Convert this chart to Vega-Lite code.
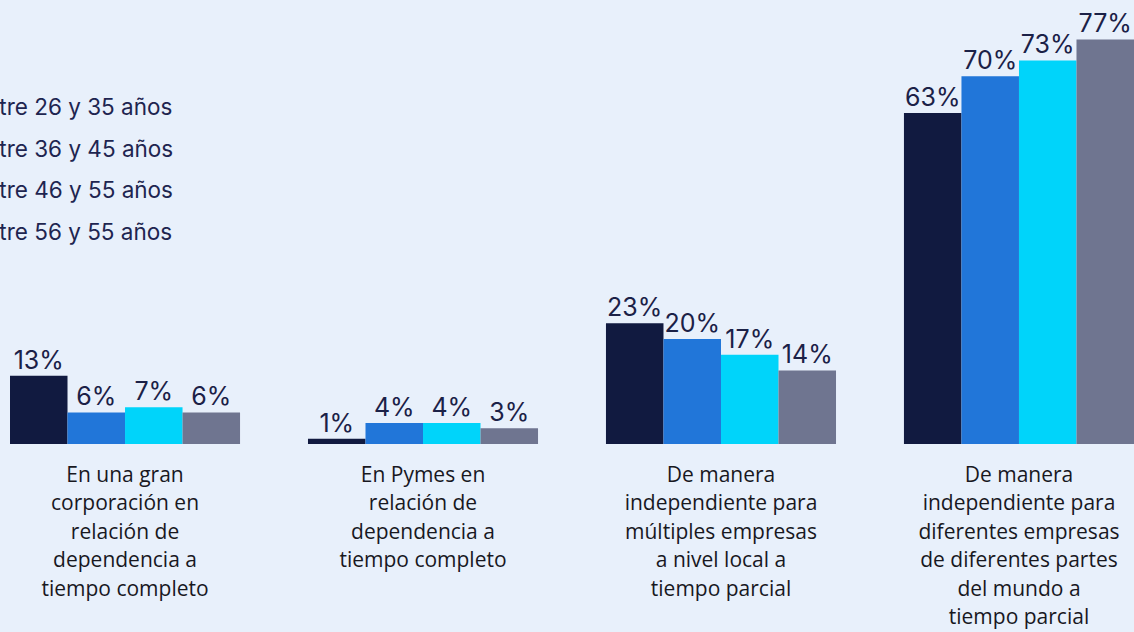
{
  "$schema": "https://vega.github.io/schema/vega-lite/v6.json",
  "width": 1124,
  "height": 444,
  "autosize": {"type": "none"},
  "padding": {"left": 10, "top": 0, "right": 0, "bottom": 188},
  "background": "#e8f0fb",
  "config": {"view": {"stroke": null}},
  "data": {
    "values": [
      {"cat": "En una gran|corporación en|relación de|dependencia a|tiempo completo", "edad": "Entre 26 y 35 años", "valor": 0.13},
      {"cat": "En una gran|corporación en|relación de|dependencia a|tiempo completo", "edad": "Entre 36 y 45 años", "valor": 0.06},
      {"cat": "En una gran|corporación en|relación de|dependencia a|tiempo completo", "edad": "Entre 46 y 55 años", "valor": 0.07},
      {"cat": "En una gran|corporación en|relación de|dependencia a|tiempo completo", "edad": "Entre 56 y 55 años", "valor": 0.06},
      {"cat": "En Pymes en|relación de|dependencia a|tiempo completo", "edad": "Entre 26 y 35 años", "valor": 0.01},
      {"cat": "En Pymes en|relación de|dependencia a|tiempo completo", "edad": "Entre 36 y 45 años", "valor": 0.04},
      {"cat": "En Pymes en|relación de|dependencia a|tiempo completo", "edad": "Entre 46 y 55 años", "valor": 0.04},
      {"cat": "En Pymes en|relación de|dependencia a|tiempo completo", "edad": "Entre 56 y 55 años", "valor": 0.03},
      {"cat": "De manera|independiente para|múltiples empresas|a nivel local a|tiempo parcial", "edad": "Entre 26 y 35 años", "valor": 0.23},
      {"cat": "De manera|independiente para|múltiples empresas|a nivel local a|tiempo parcial", "edad": "Entre 36 y 45 años", "valor": 0.20},
      {"cat": "De manera|independiente para|múltiples empresas|a nivel local a|tiempo parcial", "edad": "Entre 46 y 55 años", "valor": 0.17},
      {"cat": "De manera|independiente para|múltiples empresas|a nivel local a|tiempo parcial", "edad": "Entre 56 y 55 años", "valor": 0.14},
      {"cat": "De manera|independiente para|diferentes empresas|de diferentes partes|del mundo a|tiempo parcial", "edad": "Entre 26 y 35 años", "valor": 0.63},
      {"cat": "De manera|independiente para|diferentes empresas|de diferentes partes|del mundo a|tiempo parcial", "edad": "Entre 36 y 45 años", "valor": 0.70},
      {"cat": "De manera|independiente para|diferentes empresas|de diferentes partes|del mundo a|tiempo parcial", "edad": "Entre 46 y 55 años", "valor": 0.73},
      {"cat": "De manera|independiente para|diferentes empresas|de diferentes partes|del mundo a|tiempo parcial", "edad": "Entre 56 y 55 años", "valor": 0.77}
    ]
  },
  "encoding": {
    "x": {
      "field": "cat",
      "type": "nominal",
      "sort": null,
      "scale": {"paddingInner": 0.228, "paddingOuter": 0},
      "axis": {
        "title": null,
        "domain": false,
        "ticks": false,
        "labelAngle": 0,
        "labelExpr": "split(datum.label, '|')",
        "labelFont": "Open Sans",
        "labelFontSize": 21,
        "labelColor": "#18181f",
        "labelLineHeight": 28.5,
        "labelBaseline": "top",
        "labelPadding": 20,
        "labelLimit": 400
      }
    },
    "xOffset": {"field": "edad", "type": "nominal", "sort": null, "scale": {"paddingInner": 0}},
    "y": {
      "field": "valor",
      "type": "quantitative",
      "scale": {"domain": [0, 0.845], "nice": false},
      "axis": null
    }
  },
  "layer": [
    {
      "mark": {"type": "bar"},
      "encoding": {
        "color": {
          "field": "edad",
          "type": "nominal",
          "sort": null,
          "scale": {"range": ["#111a40", "#2176d9", "#00d4fa", "#6f7590"]},
          "legend": {
            "title": null,
            "orient": "none",
            "legendX": -60,
            "legendY": 97,
            "symbolSize": 0,
            "symbolOpacity": 0,
            "symbolStrokeWidth": 0,
            "labelOffset": 0,
            "padding": 0,
            "labelFont": "Inter",
            "labelFontSize": 22.5,
            "labelColor": "#1e2550",
            "rowPadding": 18.5,
            "labelLimit": 400
          }
        }
      }
    },
    {
      "mark": {"type": "text", "baseline": "bottom", "dy": -2, "font": "Inter", "fontSize": 25, "color": "#1b2147"},
      "encoding": {
        "text": {"field": "valor", "type": "quantitative", "format": ".0%"}
      }
    }
  ]
}
